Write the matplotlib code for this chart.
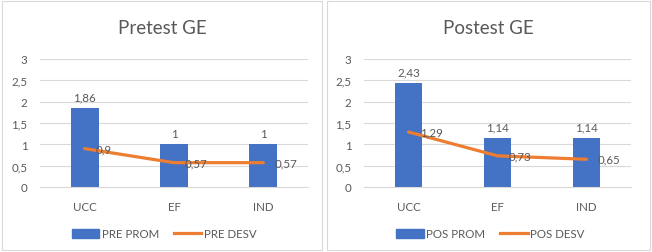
import matplotlib
matplotlib.use("Agg")
import matplotlib.pyplot as plt
from matplotlib.patches import Rectangle, Patch
from matplotlib.lines import Line2D

# === DATA ===
CATEGORIES = ["UCC", "EF", "IND"]
PRE_PROM = [1.86, 1, 1]
PRE_DESV = [0.9, 0.57, 0.57]
POS_PROM = [2.43, 1.14, 1.14]
POS_DESV = [1.29, 0.73, 0.65]
Y_TICKS = [0, 0.5, 1, 1.5, 2, 2.5, 3]
# ============

W, H = 652, 253
BLUE = "#4472C4"
ORANGE = "#ED7D31"
TEXT = "#595959"
GRID = "#D9D9D9"
FS = 8.3

plt.rcParams["font.family"] = ["Lato", "DejaVu Sans"]


def fmt(v):
    return f"{v:g}".replace(".", ",")


def px_rect(x0, y0, x1, y1):
    # image pixel box (top-down) -> figure fraction [left, bottom, width, height]
    return [x0 / W, (H - y1) / H, (x1 - x0) / W, (y1 - y0) / H]


def draw_panel(fig, box, plot_box, title, prom, desv, prom_name, desv_name):
    l, b, w, h = px_rect(*box)
    fig.patches.append(Rectangle((l, b), w, h, transform=fig.transFigure,
                                 fill=False, edgecolor="#D9D9D9", linewidth=0.8))

    ax = fig.add_axes(px_rect(*plot_box))
    x = list(range(len(CATEGORIES)))
    ax.bar(x, prom, width=0.31, color=BLUE, zorder=2)
    ax.plot(x, desv, color=ORANGE, linewidth=2.3, zorder=3, solid_capstyle="round")

    for xi, v in zip(x, prom):
        ax.annotate(fmt(v), (xi, v), xytext=(0, 4), textcoords="offset points",
                    ha="center", va="bottom", fontsize=FS, color=TEXT)
    for xi, v in zip(x, desv):
        ax.annotate(fmt(v), (xi, v), xytext=(8, 0), textcoords="offset points",
                    ha="left", va="center", fontsize=FS, color=TEXT, zorder=4)

    ax.set_xlim(-0.5, len(CATEGORIES) - 0.5)
    ax.set_ylim(0, 3)
    ax.set_yticks(Y_TICKS)
    ax.set_yticklabels([fmt(t) for t in Y_TICKS])
    ax.set_xticks(x)
    ax.set_xticklabels(CATEGORIES)
    ax.tick_params(length=0, labelsize=FS, labelcolor=TEXT)
    ax.tick_params(axis="x", pad=10)
    ax.tick_params(axis="y", pad=9)
    ax.yaxis.grid(True, color=GRID, linewidth=0.8, zorder=0)
    ax.set_axisbelow(True)
    for s in ax.spines.values():
        s.set_visible(False)
    ax.spines["bottom"].set_visible(True)
    ax.spines["bottom"].set_color(GRID)

    fig.text(((box[0] + box[2]) / 2) / W, 1 - 29 / H, title, ha="center",
             va="center", fontsize=13.5, color=TEXT)

    handles = [Patch(color=BLUE), Line2D([0], [0], color=ORANGE, linewidth=2.3)]
    fig.legend(handles, [prom_name, desv_name], loc="center",
               bbox_to_anchor=(((box[0] + box[2]) / 2 + 2) / W, 1 - 235 / H),
               ncol=2, frameon=False, fontsize=FS, labelcolor=TEXT,
               handlelength=2.4, handleheight=0.8, handletextpad=0.2,
               columnspacing=1.3)
    return ax


fig = plt.figure(figsize=(W / 100, H / 100), dpi=100)
fig.patch.set_facecolor("white")

draw_panel(fig, (2, 2, 322, 251), (40, 60, 308, 188), "Pretest GE",
           PRE_PROM, PRE_DESV, "PRE PROM", "PRE DESV")
draw_panel(fig, (327, 2, 650, 251), (364, 60, 631, 188), "Postest GE",
           POS_PROM, POS_DESV, "POS PROM", "POS DESV")

fig.savefig("out.png", dpi=100)
